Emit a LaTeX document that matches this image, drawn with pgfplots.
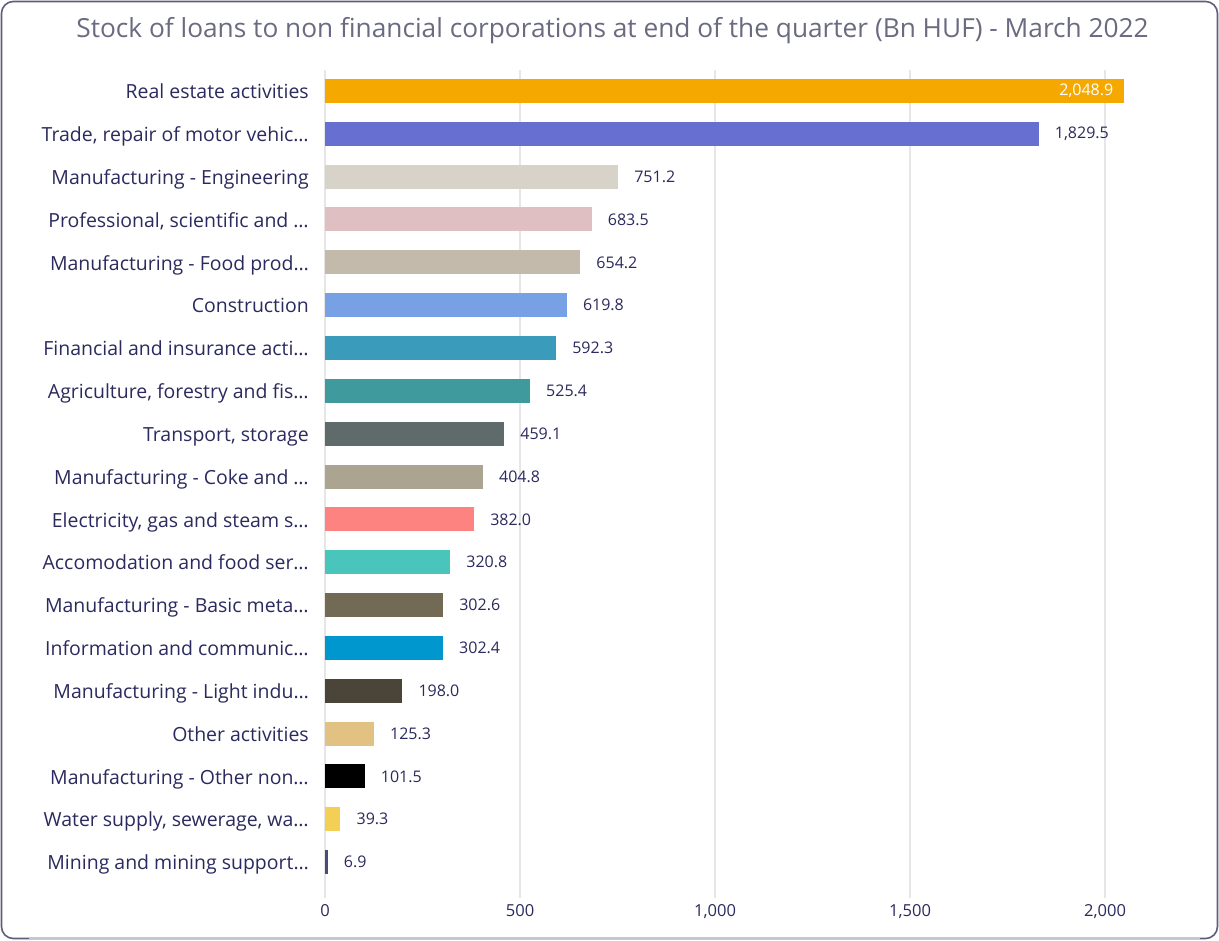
\documentclass[border=0pt]{standalone}
\usepackage{pgfplots}
\pgfplotsset{compat=1.18}
\usepackage{fontspec}
\setmainfont{Open Sans}
\definecolor{labelcol}{HTML}{2B2A5E}
\definecolor{titlecol}{HTML}{6A6B80}
\definecolor{framecol}{HTML}{5E5D7C}
\definecolor{framelight}{HTML}{C6C6D2}
\definecolor{gridcol}{HTML}{E6E6E6}
\definecolor{c1}{HTML}{F5A800}
\definecolor{c2}{HTML}{676FD0}
\definecolor{c3}{HTML}{D8D3C8}
\definecolor{c4}{HTML}{E0BFC2}
\definecolor{c5}{HTML}{C4BAAB}
\definecolor{c6}{HTML}{78A0E4}
\definecolor{c7}{HTML}{3A9BBB}
\definecolor{c8}{HTML}{3E9A9C}
\definecolor{c9}{HTML}{5F6B6B}
\definecolor{c10}{HTML}{ABA491}
\definecolor{c11}{HTML}{FD8380}
\definecolor{c12}{HTML}{4AC5BB}
\definecolor{c13}{HTML}{736A55}
\definecolor{c14}{HTML}{0097CE}
\definecolor{c15}{HTML}{4B4539}
\definecolor{c16}{HTML}{E2C283}
\definecolor{c17}{HTML}{000000}
\definecolor{c18}{HTML}{F4CF55}
\definecolor{c19}{HTML}{4A4C78}
\begin{document}
\begin{tikzpicture}
\useasboundingbox (0pt,0pt) rectangle (914.25pt,705pt);
\draw[framecol, line width=1.2pt, rounded corners=9pt, fill=white] (1.1pt,1.1pt) rectangle (913.1pt,703.9pt);
\draw[framelight, line width=1.3pt] (22pt,1.1pt) -- (900pt,1.1pt);
\node[anchor=base, text=titlecol, font=\fontsize{19.7}{23}\selectfont, inner sep=0pt] at (459.4pt,677.2pt) {Stock of loans to non financial corporations at end of the quarter (Bn HUF) - March 2022};
\begin{axis}[
  at={(243.75pt,31.5pt)}, anchor=south west,
  scale only axis, width=618.75pt, height=621pt,
  xbar, bar width=18pt, bar shift=0pt,
  xmin=0, xmax=2115, ymin=-0.84, ymax=18.49,
  /pgf/number format/assume math mode=true,
  axis line style={draw=none},
  major tick length=0pt,
  xtick={0,500,1000,1500,2000},
  xticklabel style={font=\fontsize{12.4}{14}\selectfont, text=labelcol, inner sep=0pt, yshift=-4.5pt, /pgf/number format/1000 sep={,}},
  ytick={0,1,2,3,4,5,6,7,8,9,10,11,12,13,14,15,16,17,18},
  yticklabels={Mining and mining support…,
    {Water supply, sewerage, wa…},
    Manufacturing - Other non…,
    Other activities,
    Manufacturing - Light indu…,
    Information and communic…,
    Manufacturing - Basic meta…,
    Accomodation and food ser…,
    {Electricity, gas and steam s…},
    Manufacturing - Coke and …,
    {Transport, storage},
    {Agriculture, forestry and fis…},
    Financial and insurance acti…,
    Construction,
    Manufacturing - Food prod…,
    {Professional, scientific and …},
    Manufacturing - Engineering,
    {Trade, repair of motor vehic…},
    Real estate activities},
  yticklabel style={font=\fontsize{14.6}{17}\selectfont, text=labelcol, inner sep=0pt, anchor=base east, xshift=-12pt, yshift=-5.8pt},
  xmajorgrids, ymajorgrids=false,
  major grid style={draw=gridcol, line width=1.1pt},
  point meta=x,
  nodes near coords,
  every node near coord/.style={anchor=west, inner sep=0pt, xshift=12pt, font=\fontsize{12}{14}\selectfont, text=labelcol, /pgf/number format/fixed, /pgf/number format/fixed zerofill, /pgf/number format/precision=1, /pgf/number format/1000 sep={,}},
]
\addplot[fill=c1, draw=none, every node near coord/.style={anchor=east, inner sep=0pt, xshift=-8pt, font=\fontsize{12}{14}\selectfont, text=white, /pgf/number format/fixed, /pgf/number format/fixed zerofill, /pgf/number format/precision=1, /pgf/number format/1000 sep={,}}] coordinates {(2048.9,18)};
\addplot[fill=c2, draw=none] coordinates {(1829.5,17)};
\addplot[fill=c3, draw=none] coordinates {(751.2,16)};
\addplot[fill=c4, draw=none] coordinates {(683.5,15)};
\addplot[fill=c5, draw=none] coordinates {(654.2,14)};
\addplot[fill=c6, draw=none] coordinates {(619.8,13)};
\addplot[fill=c7, draw=none] coordinates {(592.3,12)};
\addplot[fill=c8, draw=none] coordinates {(525.4,11)};
\addplot[fill=c9, draw=none] coordinates {(459.1,10)};
\addplot[fill=c10, draw=none] coordinates {(404.8,9)};
\addplot[fill=c11, draw=none] coordinates {(382.0,8)};
\addplot[fill=c12, draw=none] coordinates {(320.8,7)};
\addplot[fill=c13, draw=none] coordinates {(302.6,6)};
\addplot[fill=c14, draw=none] coordinates {(302.4,5)};
\addplot[fill=c15, draw=none] coordinates {(198.0,4)};
\addplot[fill=c16, draw=none] coordinates {(125.3,3)};
\addplot[fill=c17, draw=none] coordinates {(101.5,2)};
\addplot[fill=c18, draw=none] coordinates {(39.3,1)};
\addplot[fill=c19, draw=none] coordinates {(6.9,0)};
\end{axis}
\end{tikzpicture}
\end{document}
